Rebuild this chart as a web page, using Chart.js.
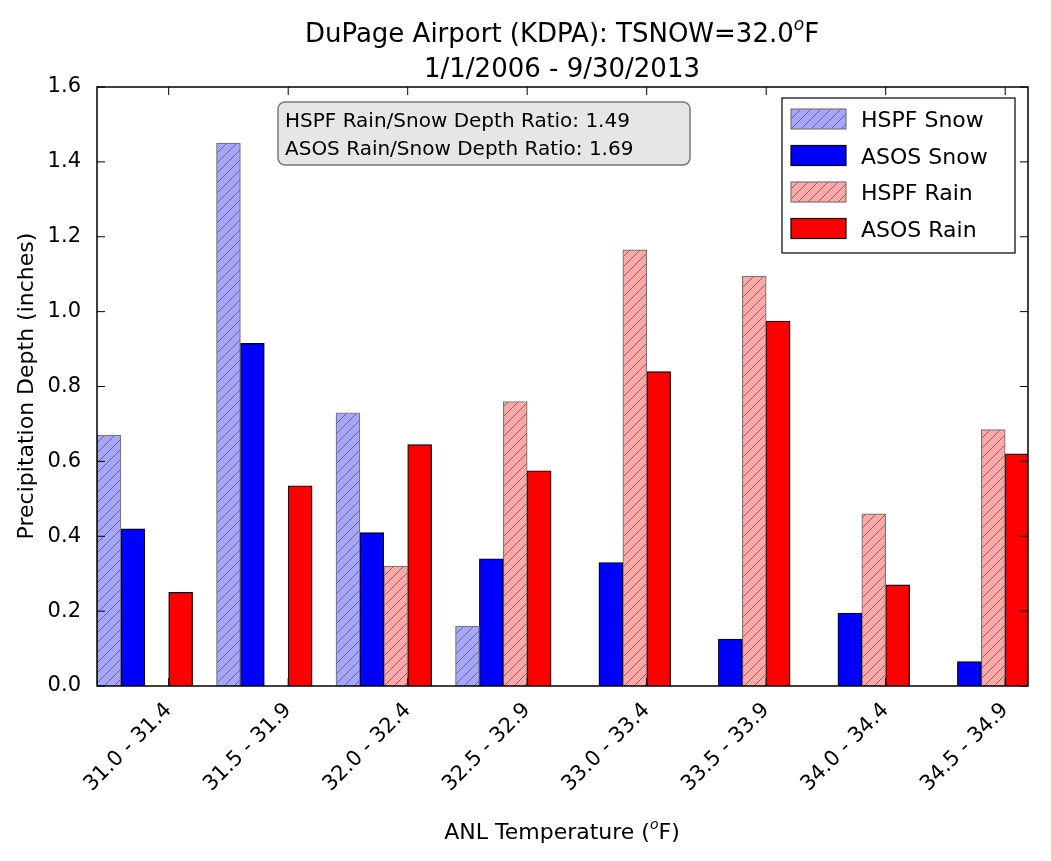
<!DOCTYPE html>
<html><head><meta charset="utf-8">
<script src="https://cdn.jsdelivr.net/npm/chart.js@4"></script>
<style>html,body{margin:0;background:#fff}#w{width:1051px;height:861px}</style>
</head><body><div id="w"><canvas id="c"></canvas></div>
<script>
const categories=["31.0 - 31.4","31.5 - 31.9","32.0 - 32.4","32.5 - 32.9","33.0 - 33.4","33.5 - 33.9","34.0 - 34.4","34.5 - 34.9"];
const hspfSnow=[0.67,1.45,0.73,0.16,0,0,0,0];
const asosSnow=[0.42,0.915,0.41,0.34,0.33,0.125,0.195,0.065];
const hspfRain=[0,0,0.32,0.76,1.165,1.095,0.46,0.685];
const asosRain=[0.25,0.535,0.645,0.575,0.84,0.975,0.27,0.62];
const yTicks=[0,0.2,0.4,0.6,0.8,1.0,1.2,1.4,1.6];
const F='"DejaVu Sans", sans-serif';

function hatch(bg){const p=document.createElement('canvas');p.width=p.height=10;const g=p.getContext('2d');
g.fillStyle=bg;g.fillRect(0,0,10,10);g.strokeStyle='rgba(90,90,90,0.8)';g.lineWidth=1;
g.beginPath();g.moveTo(0,10);g.lineTo(10,0);g.moveTo(-5,5);g.lineTo(5,-5);g.moveTo(5,15);g.lineTo(15,5);g.stroke();
return g.createPattern(p,'repeat');}
const pSnow=hatch('#a6a6ff'),pRain=hatch('#ffa6a6');
const pts=(arr,o)=>arr.map((v,i)=>({x:i+o,y:v}));
const ds=[
 {label:'HSPF Snow',data:pts(hspfSnow,0.1),backgroundColor:pSnow,borderColor:'#777',legendFill:pSnow},
 {label:'ASOS Snow',data:pts(asosSnow,0.3),backgroundColor:'#0000ff',borderColor:'#000',legendFill:'#0000ff'},
 {label:'HSPF Rain',data:pts(hspfRain,0.5),backgroundColor:pRain,borderColor:'#777',legendFill:pRain},
 {label:'ASOS Rain',data:pts(asosRain,0.7),backgroundColor:'#ff0000',borderColor:'#000',legendFill:'#ff0000'}
].map(d=>Object.assign(d,{borderWidth:1.2,barPercentage:1,categoryPercentage:1,grouped:false,borderSkipped:'bottom'}));

const deco={id:'deco',afterDraw(ch){
 const c=ch.ctx,a=ch.chartArea,x=ch.scales.x,y=ch.scales.y;
 c.save();c.strokeStyle='#000';c.lineWidth=1.5;c.strokeRect(a.left,a.top,a.right-a.left,a.bottom-a.top);
 c.lineWidth=1;c.beginPath();
 yTicks.forEach(v=>{const py=y.getPixelForValue(v);c.moveTo(a.left,py);c.lineTo(a.left+8,py);c.moveTo(a.right,py);c.lineTo(a.right-8,py);});
 categories.forEach((_,i)=>{const px=x.getPixelForValue(i+0.6);c.moveTo(px,a.bottom);c.lineTo(px,a.bottom-8);c.moveTo(px,a.top);c.lineTo(px,a.top+8);});
 c.stroke();
 c.fillStyle='#000';c.textBaseline='alphabetic';
 c.font='26px '+F;
 const t1='DuPage Airport (KDPA): TSNOW=32.0',w1=c.measureText(t1).width;
 const wF=c.measureText('F').width;c.font='17px '+F;const wo=c.measureText('o').width;c.font='26px '+F;
 let sx=562-(w1+wo+wF)/2;c.textAlign='left';c.fillText(t1,sx,42);c.font='italic 17px '+F;c.fillText('o',sx+w1,30);c.font='26px '+F;c.fillText('F',sx+w1+wo,42);
 c.textAlign='center';c.fillText('1/1/2006 - 9/30/2013',562,77);
 c.font='22px '+F;const xa='ANL Temperature (',xb='F)';const wa=c.measureText(xa).width,wb=c.measureText(xb).width;
 c.font='14px '+F;const wo2=c.measureText('o').width;sx=562-(wa+wo2+wb)/2;c.textAlign='left';
 c.font='22px '+F;c.fillText(xa,sx,839);c.font='italic 14px '+F;c.fillText('o',sx+wa,829);c.font='22px '+F;c.fillText(xb,sx+wa+wo2,839);
 c.save();c.translate(33,386);c.rotate(-Math.PI/2);c.textAlign='center';c.fillText('Precipitation Depth (inches)',0,0);c.restore();
 c.fillStyle='#e6e6e6';c.strokeStyle='#777';c.lineWidth=1.5;c.beginPath();c.roundRect(278,102,412,63,7);c.fill();c.stroke();
 c.fillStyle='#000';c.font='20px '+F;c.textAlign='left';
 c.fillText('HSPF Rain/Snow Depth Ratio: 1.49',285,127);c.fillText('ASOS Rain/Snow Depth Ratio: 1.69',285,155);
 c.fillStyle='#fff';c.strokeStyle='#000';c.lineWidth=1.2;c.fillRect(782,98,233,155);c.strokeRect(782,98,233,155);
 ds.forEach((d,i)=>{const yy=109+i*36.5;c.fillStyle=d.legendFill;c.fillRect(791,yy,55,20);c.strokeStyle=d.borderColor;c.strokeRect(791,yy,55,20);
  c.fillStyle='#000';c.font='22px '+F;c.fillText(d.label,861,yy+18);});
 c.restore();
}};

new Chart(document.getElementById('c'),{type:'bar',data:{datasets:ds},plugins:[deco],
options:{responsive:true,maintainAspectRatio:false,animation:false,
 layout:{padding:{top:87,right:23,left:0,bottom:0}},
 plugins:{legend:{display:false},tooltip:{enabled:false},title:{display:false}},
 scales:{
  x:{type:'linear',offset:false,min:0,max:931/119.5,grid:{display:false,offset:false},border:{display:false},
   afterFit(s){s.height=175;},
   afterBuildTicks(s){s.ticks=categories.map((_,i)=>({value:i+0.6}));},
   ticks:{autoSkip:false,maxRotation:45,minRotation:45,color:'#000',font:{family:F,size:21},padding:4,
    callback:(v)=>categories[Math.round(v-0.6)]}},
  y:{min:0,max:1.6,grid:{display:false},border:{display:false},afterFit(s){s.width=97;},
   afterBuildTicks(s){s.ticks=yTicks.map(v=>({value:v}));},
   ticks:{color:'#000',font:{family:F,size:21},padding:8,callback:v=>v.toFixed(1)}}
 }}});
</script></body></html>
